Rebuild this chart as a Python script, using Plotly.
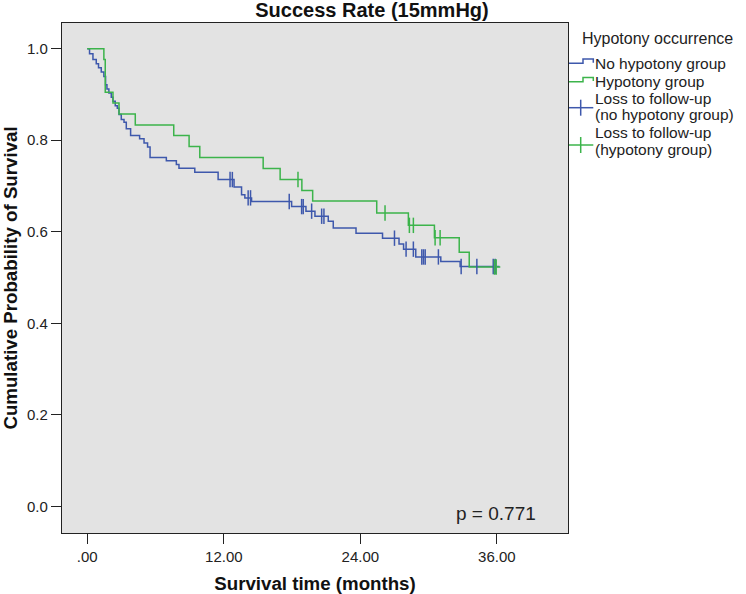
import bisect
import plotly.graph_objects as go

# ---------------- data ----------------
# No hypotony group: event times (months) and survival after each event
no_hyp_time = [0, 0.20, 0.50, 0.79, 0.99, 1.23, 1.46, 1.61, 1.73, 1.90, 2.11, 2.26, 2.46,
               2.64, 2.79, 2.99, 3.23, 3.43, 3.81, 4.60, 4.99, 5.30, 5.52, 6.95, 7.83,
               8.06, 9.45, 11.50, 12.90, 13.56, 13.85, 14.44, 17.96, 19.22, 20.01, 21.18,
               21.62, 23.62, 25.95, 27.40, 27.80, 28.87, 31.07, 32.77]
no_hyp_surv = [1.000, 0.989, 0.976, 0.967, 0.958, 0.949, 0.939, 0.921, 0.912, 0.903, 0.894,
               0.885, 0.875, 0.870, 0.856, 0.845, 0.839, 0.825, 0.810, 0.803, 0.794, 0.785,
               0.762, 0.755, 0.747, 0.739, 0.730, 0.714, 0.698, 0.681, 0.674, 0.666, 0.655,
               0.645, 0.634, 0.623, 0.608, 0.597, 0.586, 0.573, 0.562, 0.545, 0.535, 0.524]
no_hyp_end = 36.23
no_hyp_censor = [12.55, 12.75, 14.14, 14.35, 17.75, 18.84, 18.98, 19.72, 20.60, 20.80,
                 27.00, 28.02, 28.66, 29.40, 29.55, 29.70, 30.86, 32.86, 34.24, 35.68, 35.85]

# Hypotony group
hyp_time = [0, 1.46, 1.58, 2.26, 2.79, 4.22, 7.60, 8.95, 9.89, 15.46, 16.95, 18.86, 19.81,
            25.44, 28.22, 30.51, 32.69, 33.57]
hyp_surv = [1.000, 0.976, 0.905, 0.881, 0.857, 0.833, 0.810, 0.786, 0.762, 0.738, 0.714,
            0.690, 0.667, 0.641, 0.614, 0.587, 0.555, 0.523]
hyp_end = 36.30
hyp_censor = [18.52, 26.17, 28.31, 28.66, 30.57, 31.01, 35.79, 35.94]

x_tickvals = [0, 12, 24, 36]
x_ticktext = [".00", "12.00", "24.00", "36.00"]
y_tickvals = [0.0, 0.2, 0.4, 0.6, 0.8, 1.0]
y_ticktext = ["0.0", "0.2", "0.4", "0.6", "0.8", "1.0"]

title_text = "Success Rate (15mmHg)"
x_title = "Survival time (months)"
y_title = "Cumulative Probability of Survival"
p_text = "p = 0.771"
legend_title = "Hypotony occurrence"

BLUE = "#3e58ac"
GREEN = "#3cb44b"
FONT = "Liberation Sans, Arial, sans-serif"
INK = "#222222"

W, H = 746, 594
ML, MR, MT, MB = 62, 178, 23, 61


def surv_at(times, survs, t):
    i = bisect.bisect_right(times, t) - 1
    return survs[max(i, 0)]


fig = go.Figure()

for times, survs, end, color in [
    (no_hyp_time, no_hyp_surv, no_hyp_end, BLUE),
    (hyp_time, hyp_surv, hyp_end, GREEN),
]:
    fig.add_trace(go.Scatter(
        x=times + [end], y=survs + [survs[-1]],
        mode="lines", line=dict(color=color, width=1.5, shape="hv"),
        showlegend=False, hoverinfo="skip"))

for times, survs, cens, color in [
    (no_hyp_time, no_hyp_surv, no_hyp_censor, BLUE),
    (hyp_time, hyp_surv, hyp_censor, GREEN),
]:
    fig.add_trace(go.Scatter(
        x=cens, y=[surv_at(times, survs, t) for t in cens],
        mode="markers",
        marker=dict(symbol="line-ns", size=11, color=color,
                    line=dict(color=color, width=1.5)),
        showlegend=False, hoverinfo="skip"))

# ---- helpers for decorations positioned in pixels ----
PW = W - ML - MR
PH = H - MT - MB


def px(x):
    return (x - ML) / PW


def py(y):
    return (H - MB - y) / PH


shapes = []
annotations = []


def step_glyph(y_low, color):
    y_top = y_low - 4.3
    path = (f"M {px(569)},{py(y_low)} L {px(583)},{py(y_low)} L {px(583)},{py(y_top)} "
            f"L {px(593.3)},{py(y_top)} L {px(593.3)},{py(y_low - 0.6)}")
    shapes.append(dict(type="path", xref="paper", yref="paper", path=path,
                       line=dict(color=color, width=1.5)))


def censor_glyph(y, color):
    shapes.append(dict(type="line", xref="paper", yref="paper",
                       x0=px(569), x1=px(593.3), y0=py(y), y1=py(y),
                       line=dict(color=color, width=1.5)))
    shapes.append(dict(type="line", xref="paper", yref="paper",
                       x0=px(580.7), x1=px(580.7), y0=py(y - 8), y1=py(y + 8),
                       line=dict(color=color, width=1.5)))


def text_at(x, y, s, size=15.5):
    annotations.append(dict(text=s, xref="paper", yref="paper", x=px(x), y=py(y),
                            xanchor="left", yanchor="middle", showarrow=False,
                            borderpad=0,
                            font=dict(family=FONT, size=size, color=INK)))


text_at(580.7, 38.3, legend_title, 16)
step_glyph(63.3, BLUE)
text_at(594.3, 63.3, "No hypotony group")
step_glyph(81.7, GREEN)
text_at(594.3, 81.7, "Hypotony group")
censor_glyph(107.7, BLUE)
text_at(594.3, 98.0, "Loss to follow-up")
text_at(594.3, 114.3, "(no hypotony group)")
censor_glyph(145.0, GREEN)
text_at(594.3, 132.7, "Loss to follow-up")
text_at(594.3, 149.0, "(hypotony group)")

# p-value
annotations.append(dict(text=p_text, xref="paper", yref="paper", x=px(496), y=py(513),
                        xanchor="center", yanchor="middle", showarrow=False,
                        font=dict(family=FONT, size=19, color=INK)))

fig.update_layout(
    width=W, height=H,
    margin=dict(l=ML, r=MR, t=MT, b=MB, autoexpand=False),
    paper_bgcolor="white",
    plot_bgcolor="#e3e3e3",
    title=dict(text=title_text, x=372 / W, xref="container", xanchor="center",
               y=1 - 10 / H, yref="container", yanchor="middle",
               font=dict(family=FONT, size=20, color="#111111", weight="bold")),
    font=dict(family=FONT, color=INK),
    shapes=shapes,
    annotations=annotations,
    showlegend=False,
)

fig.update_xaxes(
    range=[-2.22, 42.25], tickvals=x_tickvals, ticktext=x_ticktext,
    showgrid=False, zeroline=False, showline=True, mirror=True,
    linecolor=INK, linewidth=1.3, ticks="outside", ticklen=10, tickwidth=1.4,
    tickcolor=INK, tickfont=dict(family=FONT, size=15, color=INK),
    title=dict(text=x_title, standoff=12,
               font=dict(family=FONT, size=18.7, color="#111111", weight="bold")),
    automargin=False,
)
fig.update_yaxes(
    range=[-0.058, 1.056], tickvals=y_tickvals, ticktext=y_ticktext,
    showgrid=False, zeroline=False, showline=True, mirror=True,
    linecolor=INK, linewidth=1.3, ticks="outside", ticklen=10, tickwidth=1.4,
    tickcolor=INK, tickfont=dict(family=FONT, size=15, color=INK),
    title=dict(text=y_title, standoff=9,
               font=dict(family=FONT, size=18.7, color="#111111", weight="bold")),
    automargin=False,
)

fig.write_html(
    "out.html",
    config={"displayModeBar": False},
    post_script="document.body.style.margin='0';document.body.style.overflow='hidden';",
)
